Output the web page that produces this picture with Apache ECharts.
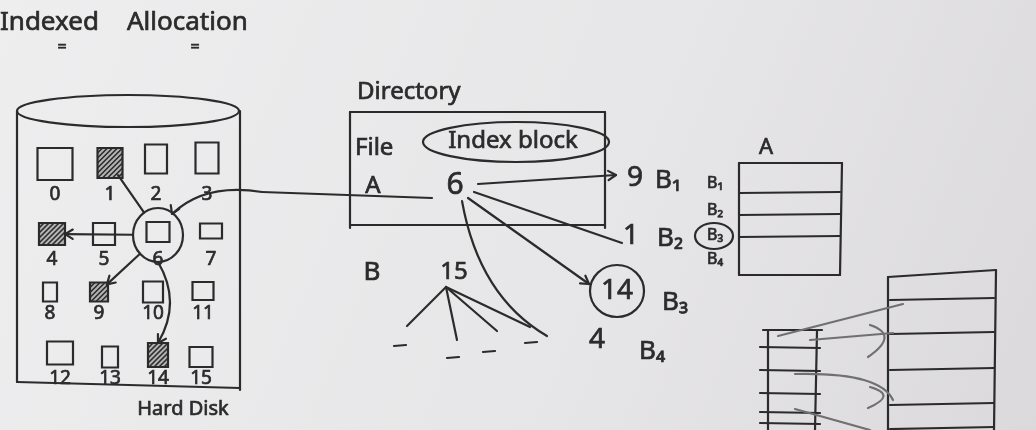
<!DOCTYPE html>
<html>
<head>
<meta charset="utf-8">
<style>
html,body{margin:0;padding:0;background:#e8e7e9}
#main{width:1036px;height:430px}
</style>
</head>
<body>
<div id="main"></div>
<script src="https://cdn.jsdelivr.net/npm/echarts@6/dist/echarts.min.js"></script>
<script>
var titleWords = ['Indexed', 'Allocation'];
var diskBlocks = [0, 1, 2, 3, 4, 5, 6, 7, 8, 9, 10, 11, 12, 13, 14, 15];
var indexBlock = 6;
var fileBlocks = [9, 1, 14, 4];            // what index block 6 holds, in order
var blockNames = ['B₁', 'B₂', 'B₃', 'B₄'];
var dirHeader = ['File', 'Index block'];
var dirFiles = ['A'];
var dirIndex = [6];
var otherFile = 'B';
var otherIndex = 15;
var otherChildren = 4;
var tableARows = 4;
var bigTableRows = 6;
var smallTableRows = 6;

// ---- layout of the hand drawing (axis units = pixels) ----
var INK = '#2b2b2b';
var LW = 2.2;
var FONT = "'Noto Sans', 'DejaVu Sans', sans-serif";
// centre x, centre y, width, height of each drawn block square
var blockBox = [
  [55, 164, 35, 32], [110, 163, 25, 30], [156, 159, 22, 29], [207, 158, 23, 31],
  [52, 234, 26, 22], [104, 234, 22, 22], [158, 232, 23, 20], [211, 231, 22, 15],
  [50, 292, 14, 19], [99, 292, 18, 19], [153, 292, 20, 21], [203, 291, 21, 18],
  [60, 353, 26, 23], [110, 357, 16, 21], [158, 355, 20, 24], [201, 357, 23, 20]
];
var labelY = [195, 260, 314, 379];
var ringCentre = [158, 235];
var ringR = [25, 27];
var bendTo = {14: -24};
var noHead = {1: true};
var entryPos = [[635, 178], [631, 236], [617, 291], [597, 340]];
var entryFrom = [[478, 184], [474, 192], [468, 198], [462, 201]];
var entryEnd = [[616, 175], [622, 243], [589, 284], [547, 336]];
var entryBend = [0, 0, 0, 0.42];
var entryHead = [true, false, true, false];
var nameX = [668, 670, 675, 652];
var nameY = [181, 239, 303, 352];

function txt(api, x, y, s, size, align, extra) {
  var p = api.coord([x, y]);
  var st = {text: s, fill: INK, stroke: INK, lineWidth: 0.7, font: (size || 24) + 'px ' + FONT,
    align: align || 'center', verticalAlign: 'middle'};
  if (extra) for (var k in extra) st[k] = extra[k];
  return {type: 'text', x: p[0], y: p[1], style: st};
}
function ln(api, a, b, col, w) {
  var p = api.coord(a), q = api.coord(b);
  return {type: 'line', shape: {x1: p[0], y1: p[1], x2: q[0], y2: q[1]},
    style: {stroke: col || INK, lineWidth: w || LW, lineCap: 'round'}};
}
function ell(api, c, rx, ry) {
  var p = api.coord(c);
  return {type: 'ellipse', shape: {cx: p[0], cy: p[1], rx: rx, ry: ry},
    style: {fill: 'none', stroke: INK, lineWidth: LW}};
}
function head(api, from, to, col) {
  var p = api.coord(to), q = api.coord(from);
  var a = Math.atan2(p[1] - q[1], p[0] - q[0]);
  var s = 9;
  return {type: 'polyline', shape: {points: [
    [p[0] + s * Math.cos(a + 2.6), p[1] + s * Math.sin(a + 2.6)], p,
    [p[0] + s * Math.cos(a - 2.6), p[1] + s * Math.sin(a - 2.6)]]},
    style: {fill: 'none', stroke: col || INK, lineWidth: LW, lineCap: 'round', lineJoin: 'round'}};
}
function curve(api, a, c, b, col) {
  var p = api.coord(a), m = api.coord(c), q = api.coord(b);
  return {type: 'bezierCurve', shape: {x1: p[0], y1: p[1], cpx1: m[0], cpy1: m[1], x2: q[0], y2: q[1]},
    style: {fill: 'none', stroke: col || INK, lineWidth: LW, lineCap: 'round'}};
}

// disk blocks, hatched when they belong to file A
function renderBlock(params, api) {
  var b = api.value(2);
  var used = fileBlocks.indexOf(b) >= 0;
  var c = api.coord([api.value(0), api.value(1)]);
  var w = blockBox[b][2], h = blockBox[b][3];
  var x0 = c[0] - w / 2, y0 = c[1] - h / 2, x1 = x0 + w, y1 = y0 + h;
  var kids = [{type: 'rect', shape: {x: x0, y: y0, width: w, height: h},
    style: {fill: used ? 'rgba(50,50,50,0.30)' : 'none', stroke: INK, lineWidth: LW}}];
  if (used) {
    for (var k = x0 + y0 + 5; k < x1 + y1 - 3; k += 5) {
      var xa = Math.max(x0, k - y1), xb = Math.min(x1, k - y0);
      kids.push({type: 'line', shape: {x1: xa, y1: k - xa, x2: xb, y2: k - xb},
        style: {stroke: INK, lineWidth: 1.6}});
    }
  }
  kids.push(txt(api, api.value(0), labelY[Math.floor(b / 4)], String(b), 19));
  return {type: 'group', children: kids};
}

// arrows from the index block to the blocks it lists
function renderPointer(params, api) {
  var b = api.value(2);
  var t = [blockBox[b][0], blockBox[b][1]];
  var dx = t[0] - ringCentre[0], dy = t[1] - ringCentre[1];
  var d = Math.sqrt(dx * dx + dy * dy);
  var ux = dx / d, uy = dy / d;
  var s = [ringCentre[0] + ux * ringR[0], ringCentre[1] + uy * ringR[1]];
  var r = Math.min(blockBox[b][2], blockBox[b][3]) / 2 + 2;
  var e = [t[0] - ux * r, t[1] - uy * r];
  var kids = [];
  var bend = bendTo[b] || 0;
  var ctrl = [(s[0] + e[0]) / 2 - uy * bend, (s[1] + e[1]) / 2 + ux * bend];
  if (bend) kids.push(curve(api, s, ctrl, e)); else kids.push(ln(api, s, e));
  if (!noHead[b]) kids.push(head(api, bend ? ctrl : s, e));
  return {type: 'group', children: kids};
}

// pointers from "6" in the directory to the list of entries
function renderEntry(params, api) {
  var i = api.value(3);
  var a = entryFrom[i], e = entryEnd[i];
  var kids = [];
  var ctrl = null;
  if (entryBend[i]) {
    ctrl = [a[0] + (e[0] - a[0]) * 0.2, a[1] + (e[1] - a[1]) * 0.6 + (e[0] - a[0]) * entryBend[i] * 0.4];
    kids.push(curve(api, a, ctrl, e));
  } else {
    kids.push(ln(api, a, e));
  }
  if (entryHead[i]) kids.push(head(api, ctrl || a, e));
  var v = api.value(2);
  kids.push(txt(api, api.value(0), api.value(1), String(v), 28));
  if (v === 14) kids.push(ell(api, [api.value(0), api.value(1)], 27, 26));
  kids.push(txt(api, nameX[i], nameY[i], blockNames[i], 26));
  return {type: 'group', children: kids};
}

// the rest of the board: disk outline, directory, file B, table A, sketches
function renderBoard(params, api) {
  var k = [];
  // title
  k.push(txt(api, 0, 23, titleWords[0], 26, 'left'));
  k.push(txt(api, 127, 23, titleWords[1], 26, 'left'));
  k.push(txt(api, 62, 47, '=', 16));
  k.push(txt(api, 195, 47, '=', 16));
  // disk cylinder
  k.push(ell(api, [128, 111], 111, 16));
  k.push(ln(api, [17, 111], [17, 382]));
  k.push(ln(api, [240, 111], [240, 390]));
  k.push(ln(api, [17, 382], [240, 388]));
  k.push(txt(api, 183, 409, 'Hard Disk', 20));
  k.push(ell(api, ringCentre, ringR[0], ringR[1]));
  // block 6 -> directory entry of A
  var p = api.coord([172, 214]), c1 = api.coord([195, 192]), c2 = api.coord([225, 186]), q = api.coord([262, 192]);
  k.push({type: 'bezierCurve', shape: {x1: p[0], y1: p[1], cpx1: c1[0], cpy1: c1[1], cpx2: c2[0], cpy2: c2[1], x2: q[0], y2: q[1]},
    style: {fill: 'none', stroke: INK, lineWidth: LW}});
  k.push(ln(api, [262, 192], [432, 198]));
  k.push(head(api, [178, 200], [172, 214]));
  // directory
  k.push(txt(api, 357, 92, 'Directory', 24, 'left'));
  k.push(ln(api, [350, 112], [605, 112]));
  k.push(ln(api, [350, 225], [605, 225]));
  k.push(ln(api, [350, 112], [350, 228]));
  k.push(ln(api, [605, 112], [605, 228]));
  k.push(txt(api, 355, 148, dirHeader[0], 24, 'left'));
  k.push(ell(api, [516, 142], 93, 20));
  k.push(txt(api, 513, 141, dirHeader[1], 24));
  k.push(txt(api, 373, 186, dirFiles[0], 24));
  k.push(txt(api, 455, 185, String(dirIndex[0]), 30));
  // file B with index block 15
  k.push(txt(api, 372, 273, otherFile, 26));
  k.push(txt(api, 454, 272, String(otherIndex), 24));
  var leafEnd = [[407, 326], [457, 340], [497, 331], [530, 327]];
  var dash = [[400, 346], [453, 358], [489, 352], [531, 343]];
  for (var i = 0; i < otherChildren; i++) {
    k.push(ln(api, [446, 287], leafEnd[i]));
    k.push(ln(api, [dash[i][0] - 6, dash[i][1]], [dash[i][0] + 6, dash[i][1] - 1]));
  }
  // table A
  k.push(txt(api, 766, 148, dirFiles[0], 22));
  k.push(ln(api, [739, 163], [842, 163]));
  k.push(ln(api, [739, 163], [739, 275]));
  k.push(ln(api, [842, 163], [840, 275]));
  k.push(ln(api, [739, 275], [840, 275]));
  var rowsA = [193, 215, 237];
  for (var r = 0; r < tableARows - 1; r++) k.push(ln(api, [739, rowsA[r]], [840, rowsA[r] - 1]));
  var bY = [183, 210, 235, 259];
  for (var j = 0; j < tableARows; j++) k.push(txt(api, 715, bY[j], blockNames[j], 16));
  k.push(ell(api, [714, 236], 19, 13));
  // sketch of a big and a small table at bottom right
  k.push(ln(api, [888, 277], [996, 270]));
  k.push(ln(api, [888, 277], [888, 430]));
  k.push(ln(api, [996, 270], [994, 430]));
  var bigY = [298, 332, 368, 403, 427];
  for (var m = 0; m < bigTableRows - 1; m++) k.push(ln(api, [890, bigY[m] + 2], [994, bigY[m]]));
  k.push(ln(api, [763, 330], [822, 330]));
  k.push(ln(api, [768, 330], [768, 430]));
  k.push(ln(api, [817, 331], [815, 430]));
  var smallY = [347, 370, 393, 412, 423];
  for (var n = 0; n < smallTableRows - 1; n++) k.push(ln(api, [760, smallY[n]], [820, smallY[n] + 1]));
  var grey = '#707070';
  k.push(ln(api, [778, 336], [903, 304], grey));
  k.push(ln(api, [810, 340], [893, 333], grey));
  k.push(curve(api, [870, 325], [900, 335], [868, 357], grey));
  k.push(curve(api, [795, 374], [880, 372], [893, 400], grey));
  k.push(curve(api, [870, 387], [898, 395], [868, 408], grey));
  k.push(ln(api, [795, 409], [870, 430], grey));
  return {type: 'group', children: k};
}

var chart = echarts.init(document.getElementById('main'));
chart.setOption({
  animation: false,
  backgroundColor: new echarts.graphic.LinearGradient(0, 0, 1, 1, [
    {offset: 0, color: '#eeeeef'}, {offset: 0.6, color: '#e6e5e7'}, {offset: 1, color: '#dbd9db'}
  ]),
  grid: {left: 0, right: 0, top: 0, bottom: 0},
  xAxis: {type: 'value', min: 0, max: 1036, show: false},
  yAxis: {type: 'value', min: 0, max: 430, inverse: true, show: false},
  series: [
    {type: 'custom', name: 'board', silent: true, clip: false, renderItem: renderBoard, data: [[0, 0]]},
    {type: 'custom', name: 'disk', silent: true, clip: false, renderItem: renderBlock,
      data: diskBlocks.map(function (b) { return [blockBox[b][0], blockBox[b][1], b]; })},
    {type: 'custom', name: 'index', silent: true, clip: false, renderItem: renderPointer,
      data: fileBlocks.map(function (b) { return [blockBox[indexBlock][0], blockBox[indexBlock][1], b]; })},
    {type: 'custom', name: 'entries', silent: true, clip: false, renderItem: renderEntry,
      data: fileBlocks.map(function (b, i) { return [entryPos[i][0], entryPos[i][1], b, i]; })}
  ]
});
</script>
</body>
</html>
